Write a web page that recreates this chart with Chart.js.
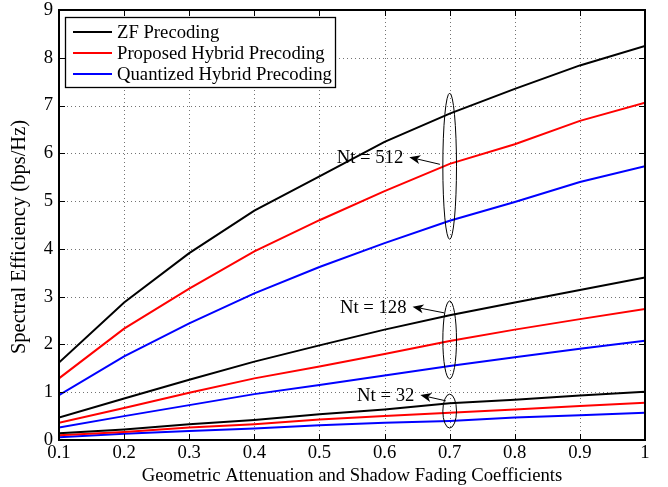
<!DOCTYPE html>
<html>
<head>
<meta charset="utf-8">
<script src="https://cdn.jsdelivr.net/npm/chart.js@4.4.0/dist/chart.umd.min.js"></script>
<style>
  html, body { margin: 0; padding: 0; background: #fff; }
</style>
</head>
<body>
<canvas id="chart" width="668" height="487"></canvas>
<script>
// values
const coeffs = [0.1, 0.2, 0.3, 0.4, 0.5, 0.6, 0.7, 0.8, 0.9, 1.0];
const xTicks = [0.1, 0.2, 0.3, 0.4, 0.5, 0.6, 0.7, 0.8, 0.9, 1];
const yTicks = [0, 1, 2, 3, 4, 5, 6, 7, 8, 9];

const zf512 = [1.62, 2.88, 3.91, 4.8, 5.52, 6.24, 6.83, 7.35, 7.84, 8.25];
const prop512 = [1.29, 2.33, 3.17, 3.95, 4.6, 5.21, 5.78, 6.19, 6.68, 7.06];
const quant512 = [0.94, 1.75, 2.44, 3.07, 3.62, 4.12, 4.59, 4.98, 5.4, 5.73];

const zf128 = [0.47, 0.87, 1.26, 1.64, 1.98, 2.31, 2.61, 2.88, 3.14, 3.4];
const prop128 = [0.36, 0.67, 0.99, 1.29, 1.54, 1.8, 2.07, 2.31, 2.53, 2.74];
const quant128 = [0.26, 0.5, 0.73, 0.96, 1.15, 1.35, 1.55, 1.73, 1.91, 2.08];

const zf32 = [0.14, 0.22, 0.33, 0.42, 0.54, 0.64, 0.77, 0.84, 0.93, 1.01];
const prop32 = [0.1, 0.17, 0.26, 0.33, 0.43, 0.5, 0.57, 0.64, 0.71, 0.78];
const quant32 = [0.06, 0.13, 0.19, 0.24, 0.31, 0.36, 0.4, 0.47, 0.52, 0.57];

const legendLabels = ["ZF Precoding", "Proposed Hybrid Precoding", "Quantized Hybrid Precoding"];
const colors = ["#000000", "#ff0000", "#0000ff"];
const yTitle = "Spectral Efficiency (bps/Hz)";

// annotation groups: ellipse around x=0.7, arrow pointing at the label
const groupLabels = ["Nt = 512", "Nt = 128", "Nt = 32"];
const markX = 0.7;
const ellipseTop = [7.26, 2.91, 0.96];
const ellipseBottom = [4.2, 1.28, 0.25];
const arrowTail = [[0.685, 5.77], [0.692, 2.66], [0.694, 0.82]];
const arrowHead = [[0.638, 5.92], [0.643, 2.79], [0.655, 0.94]];

const FONT = '"Liberation Serif", "Times New Roman", serif';
const FS = 18.7;

function series(data, i) {
  return {
    label: legendLabels[i],
    data: coeffs.map((c, k) => ({ x: c, y: data[k] })),
    borderColor: colors[i],
    backgroundColor: colors[i],
    borderWidth: 2,
    pointRadius: 0,
    tension: 0,
  };
}

// dotted grid behind the lines
const dottedGrid = {
  id: "dottedGrid",
  beforeDatasetsDraw(chart) {
    const { ctx, chartArea: a, scales: { x, y } } = chart;
    ctx.save();
    ctx.strokeStyle = "rgba(0,0,0,0.55)";
    ctx.lineWidth = 1;
    ctx.setLineDash([1, 3]);
    ctx.beginPath();
    x.ticks.forEach((t) => {
      const px = Math.round(x.getPixelForValue(t.value)) + 0.5;
      ctx.moveTo(px, a.top); ctx.lineTo(px, a.bottom);
    });
    y.ticks.forEach((t) => {
      const py = Math.round(y.getPixelForValue(t.value)) + 0.5;
      ctx.moveTo(a.left, py); ctx.lineTo(a.right, py);
    });
    ctx.stroke();
    ctx.restore();
  },
};

const overlay = {
  id: "overlay",
  afterDatasetsDraw(chart) {
    const { ctx, chartArea: a, scales: { x, y } } = chart;
    ctx.save();
    ctx.strokeStyle = "#000";
    ctx.lineWidth = 1;
    // inward tick marks on all four sides
    ctx.beginPath();
    x.ticks.forEach((t) => {
      const px = Math.round(x.getPixelForValue(t.value)) + 0.5;
      ctx.moveTo(px, a.bottom); ctx.lineTo(px, a.bottom - 6);
      ctx.moveTo(px, a.top); ctx.lineTo(px, a.top + 6);
    });
    y.ticks.forEach((t) => {
      const py = Math.round(y.getPixelForValue(t.value)) + 0.5;
      ctx.moveTo(a.left, py); ctx.lineTo(a.left + 6, py);
      ctx.moveTo(a.right, py); ctx.lineTo(a.right - 6, py);
    });
    ctx.stroke();
    // box
    ctx.lineWidth = 2;
    ctx.strokeRect(a.left, a.top, a.right - a.left, a.bottom - a.top);

    // ellipses, arrows, labels
    ctx.lineWidth = 1;
    ctx.font = FS + "px " + FONT;
    ctx.fillStyle = "#000";
    ctx.textAlign = "right";
    ctx.textBaseline = "middle";
    groupLabels.forEach((lab, i) => {
      const cx = x.getPixelForValue(markX);
      const yT = y.getPixelForValue(ellipseTop[i]);
      const yB = y.getPixelForValue(ellipseBottom[i]);
      const rx = x.getPixelForValue(markX + 0.0105) - cx;
      ctx.beginPath();
      ctx.ellipse(cx, (yT + yB) / 2, rx, (yB - yT) / 2, 0, 0, Math.PI * 2);
      ctx.stroke();

      const tx = x.getPixelForValue(arrowTail[i][0]);
      const ty = y.getPixelForValue(arrowTail[i][1]);
      const hx = x.getPixelForValue(arrowHead[i][0]);
      const hy = y.getPixelForValue(arrowHead[i][1]);
      const ang = Math.atan2(hy - ty, hx - tx);
      const len = 11, w = 4.5;
      const bx = hx - Math.cos(ang) * len, by = hy - Math.sin(ang) * len;
      ctx.beginPath();
      ctx.moveTo(tx, ty);
      ctx.lineTo(bx + Math.cos(ang) * 3, by + Math.sin(ang) * 3);
      ctx.stroke();
      ctx.beginPath();
      ctx.moveTo(hx, hy);
      ctx.lineTo(bx - Math.sin(ang) * w, by + Math.cos(ang) * w);
      ctx.lineTo(bx + Math.cos(ang) * 3, by + Math.sin(ang) * 3);
      ctx.lineTo(bx + Math.sin(ang) * w, by - Math.cos(ang) * w);
      ctx.closePath();
      ctx.fill();

      ctx.fillText(lab, hx - 6, hy + 1);
    });

    // legend box in the upper-left corner
    const lx = a.left + 6, ly = a.top + 7, lw = 270, lh = 70;
    ctx.fillStyle = "#fff";
    ctx.fillRect(lx, ly, lw, lh);
    ctx.strokeStyle = "#000";
    ctx.lineWidth = 1.3;
    ctx.strokeRect(lx + 0.5, ly + 0.5, lw, lh);
    ctx.textAlign = "left";
    legendLabels.forEach((lab, i) => {
      const ry = ly + 15 + i * 21;
      ctx.strokeStyle = colors[i];
      ctx.lineWidth = 2;
      ctx.beginPath();
      ctx.moveTo(lx + 8, ry);
      ctx.lineTo(lx + 47, ry);
      ctx.stroke();
      ctx.fillStyle = "#000";
      ctx.fillText(lab, lx + 52, ry + 1);
    });

    // y-axis title
    ctx.font = "20.5px " + FONT;
    ctx.translate(20, 237);
    ctx.rotate(-Math.PI / 2);
    ctx.textAlign = "center";
    ctx.fillText(yTitle, 0, 0);
    ctx.restore();
  },
};

const datasets = [
  series(zf512, 0), series(prop512, 1), series(quant512, 2),
  series(zf128, 0), series(prop128, 1), series(quant128, 2),
  series(zf32, 0), series(prop32, 1), series(quant32, 2),
];

new Chart(document.getElementById("chart").getContext("2d"), {
  type: "line",
  data: { datasets },
  plugins: [dottedGrid, overlay],
  options: {
    responsive: false,
    animation: false,
    layout: { padding: { top: 10, right: 23, left: 0, bottom: 0 } },
    plugins: { legend: { display: false }, tooltip: { enabled: false } },
    scales: {
      x: {
        type: "linear",
        min: 0.1,
        max: 1,
        afterBuildTicks: (s) => { s.ticks = xTicks.map((v) => ({ value: v })); },
        afterFit: (s) => { s.height = 47; s.paddingLeft = 0; s.paddingRight = 0; },
        ticks: {
          color: "#000",
          font: { family: FONT, size: FS },
          padding: 2,
          maxRotation: 0,
          callback: (v) => String(Math.round(v * 10) / 10),
        },
        grid: { display: false, drawTicks: false },
        border: { display: false },
        title: {
          display: true,
          text: "Geometric Attenuation and Shadow Fading Coefficients",
          color: "#000",
          font: { family: FONT, size: FS },
          padding: { top: 0, bottom: 0 },
        },
      },
      y: {
        min: 0,
        max: 9,
        afterBuildTicks: (s) => { s.ticks = yTicks.map((v) => ({ value: v })); },
        afterFit: (s) => { s.width = 59; s.paddingTop = 0; s.paddingBottom = 0; },
        ticks: {
          color: "#000",
          font: { family: FONT, size: FS },
          padding: 6,
        },
        grid: { display: false, drawTicks: false },
        border: { display: false },
      },
    },
  },
});
</script>
</body>
</html>
